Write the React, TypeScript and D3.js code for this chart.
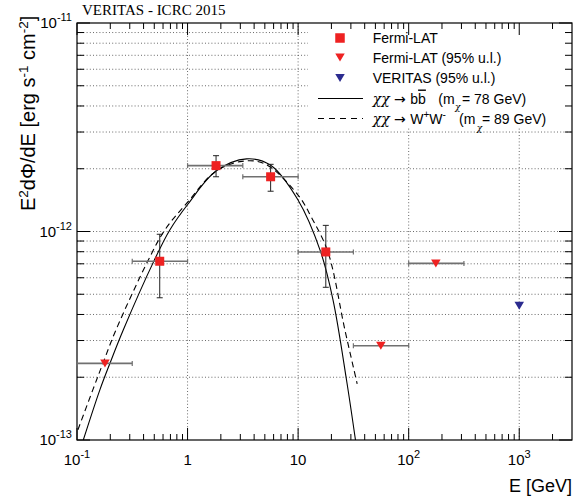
import React from 'react';
import * as d3 from 'd3';

const W = 580;
const H = 498;
const M = { top: 23, right: 8, bottom: 58, left: 77 };
const FONT = "'Liberation Sans', Arial, Helvetica, sans-serif";
const CHI_FONT = "'DejaVu Serif', 'Liberation Serif', serif";

// Fermi-LAT flux points (E in GeV, E^2 dPhi/dE in erg s^-1 cm^-2)
const fermiE = [0.56, 1.81, 5.64, 17.8];
const fermiFlux = [7.2e-13, 2.07e-12, 1.83e-12, 7.98e-13];
const fermiELo = [0.316, 1.0, 3.16, 10];
const fermiEHi = [1.0, 3.16, 10, 31.6];
const fermiFluxLo = [4.81e-13, 1.83e-12, 1.56e-12, 5.4e-13];
const fermiFluxHi = [9.7e-13, 2.31e-12, 2.1e-12, 1.07e-12];

// Fermi-LAT 95% upper limits
const ulE = [0.179, 56, 176];
const ulFlux = [2.33e-13, 2.83e-13, 7.03e-13];
const ulELo = [0.1, 31.6, 100];
const ulEHi = [0.316, 100, 316];

// VERITAS 95% upper limit
const veritasE = [1000];
const veritasFlux = [4.4e-13];

// model curves
const bbE = [0.114, 0.161, 0.199, 0.262, 0.497, 0.693, 1.01, 1.81, 3.42, 5.64, 9.95, 16.0, 20.7, 27.4, 33.1];
const bbFlux = [1.0e-13, 1.74e-13, 2.34e-13, 3.37e-13, 7.23e-13, 1.02e-12, 1.355e-12, 1.95e-12, 2.23e-12, 2.08e-12, 1.42e-12, 7.98e-13, 4.69e-13, 1.94e-13, 0.99e-13];
const wwE = [0.102, 0.139, 0.172, 0.225, 0.438, 0.625, 1.01, 1.77, 3.1, 5.01, 9.95, 13.3, 18.6, 26.5, 34.2];
const wwFlux = [1.12e-13, 1.74e-13, 2.34e-13, 3.37e-13, 7.23e-13, 1.02e-12, 1.39e-12, 1.93e-12, 2.17e-12, 2.11e-12, 1.5e-12, 1.16e-12, 7.98e-13, 3.37e-13, 1.86e-13];

// axis ticks
const xTickValues = [0.1, 1, 10, 100, 1000];
const xTickLabels = [['10', '-1'], ['1', ''], ['10', ''], ['10', '2'], ['10', '3']];
const yTickValues = [1e-13, 1e-12, 1e-11];
const yTickLabels = [['10', '-13'], ['10', '-12'], ['10', '-11']];

const RED = '#ee2222';
const BLUE = '#2b2b8f';

function Square({ cx, cy, s = 9 }: { cx: number; cy: number; s?: number }) {
  return <rect x={cx - s / 2} y={cy - s / 2} width={s} height={s} fill={RED} />;
}

function TriDown({ cx, cy, color }: { cx: number; cy: number; color: string }) {
  const w = 9.5, h = 8;
  return <path d={`M${cx - w / 2},${cy - h / 2}L${cx + w / 2},${cy - h / 2}L${cx},${cy + h / 2}Z`} fill={color} />;
}

function Chi({ size }: { size?: number }) {
  return <tspan fontFamily={CHI_FONT} fontStyle="italic" fontSize={size}>χ</tspan>;
}

function Arrow() {
  return <tspan fontFamily="'DejaVu Sans', sans-serif"> → </tspan>;
}

export default function App() {
  const x = d3.scaleLog().domain([0.1, 3000]).range([M.left, W - M.right]);
  const y = d3.scaleLog().domain([1e-13, 1e-11]).range([H - M.bottom, M.top]);
  const L = M.left, R = W - M.right, T = M.top, B = H - M.bottom;

  const xMinor: number[] = [];
  xTickValues.forEach(d => { for (let k = 2; k <= 9; k++) if (d * k < 3000) xMinor.push(d * k); });
  const yMinor: number[] = [];
  [1e-13, 1e-12].forEach(d => { for (let k = 2; k <= 9; k++) yMinor.push(d * k); });

  const line = d3.line<[number, number]>()
    .x(d => x(d[0]))
    .y(d => y(d[1]))
    .curve(d3.curveCatmullRom.alpha(0.5));
  const bbPath = line(bbE.map((e, i) => [e, bbFlux[i]] as [number, number])) || '';
  const wwPath = line(wwE.map((e, i) => [e, wwFlux[i]] as [number, number])) || '';

  const grid = { stroke: '#444', strokeWidth: 0.8, strokeDasharray: '1,2.2' };

  return (
    <div style={{ position: 'fixed', left: 0, top: 0 }}>
      <svg width={W} height={H} style={{ display: 'block', background: '#fff' }} fontFamily={FONT}>
        <defs>
          <clipPath id="plot">
            <rect x={L} y={T} width={R - L} height={B - T} />
          </clipPath>
        </defs>

        {/* grid */}
        {xTickValues.slice(1).map(v => (
          <line key={'gx' + v} x1={x(v)} x2={x(v)} y1={T} y2={B} {...grid} />
        ))}
        {[...yMinor, 1e-12].map(v => (
          <line key={'gy' + v} x1={L} x2={R} y1={y(v)} y2={y(v)} {...grid} />
        ))}

        {/* legend background hides the grid */}
        <rect x={308} y={T} width={R - 308} height={128 - T} fill="#fff" />

        {/* ticks */}
        <g stroke="#000" strokeWidth={1}>
          {xTickValues.map(v => (
            <g key={'xt' + v}>
              <line x1={x(v)} x2={x(v)} y1={B} y2={B - 12} />
              <line x1={x(v)} x2={x(v)} y1={T} y2={T + 12} />
            </g>
          ))}
          {xMinor.map(v => (
            <g key={'xm' + v}>
              <line x1={x(v)} x2={x(v)} y1={B} y2={B - 6} />
              <line x1={x(v)} x2={x(v)} y1={T} y2={T + 6} />
            </g>
          ))}
          {yTickValues.map(v => (
            <g key={'yt' + v}>
              <line x1={L} x2={L + 13} y1={y(v)} y2={y(v)} />
              <line x1={R} x2={R - 13} y1={y(v)} y2={y(v)} />
            </g>
          ))}
          {yMinor.map(v => (
            <g key={'ym' + v}>
              <line x1={L} x2={L + 7} y1={y(v)} y2={y(v)} />
              <line x1={R} x2={R - 7} y1={y(v)} y2={y(v)} />
            </g>
          ))}
        </g>

        {/* frame */}
        <rect x={L} y={T} width={R - L} height={B - T} fill="none" stroke="#000" strokeWidth={1.2} />

        {/* model curves */}
        <g clipPath="url(#plot)" fill="none" stroke="#000" strokeWidth={1.1}>
          <path d={bbPath} />
          <path d={wwPath} strokeDasharray="6,4" />
        </g>

        {/* Fermi-LAT points */}
        {fermiE.map((e, i) => (
          <g key={'f' + i}>
            <line x1={x(fermiELo[i])} x2={x(fermiEHi[i])} y1={y(fermiFlux[i])} y2={y(fermiFlux[i])} stroke="#707070" strokeWidth={1.6} />
            <line x1={x(fermiELo[i])} x2={x(fermiELo[i])} y1={y(fermiFlux[i]) - 2.5} y2={y(fermiFlux[i]) + 2.5} stroke="#707070" strokeWidth={1.2} />
            <line x1={x(fermiEHi[i])} x2={x(fermiEHi[i])} y1={y(fermiFlux[i]) - 2.5} y2={y(fermiFlux[i]) + 2.5} stroke="#707070" strokeWidth={1.2} />
            <line x1={x(e)} x2={x(e)} y1={y(fermiFluxLo[i])} y2={y(fermiFluxHi[i])} stroke="#222" strokeWidth={1} />
            <line x1={x(e) - 3} x2={x(e) + 3} y1={y(fermiFluxLo[i])} y2={y(fermiFluxLo[i])} stroke="#222" strokeWidth={1} />
            <line x1={x(e) - 3} x2={x(e) + 3} y1={y(fermiFluxHi[i])} y2={y(fermiFluxHi[i])} stroke="#222" strokeWidth={1} />
            <Square cx={x(e)} cy={y(fermiFlux[i])} />
          </g>
        ))}

        {/* Fermi-LAT upper limits */}
        {ulE.map((e, i) => (
          <g key={'u' + i}>
            <line x1={x(ulELo[i])} x2={x(ulEHi[i])} y1={y(ulFlux[i])} y2={y(ulFlux[i])} stroke="#707070" strokeWidth={1.6} />
            <line x1={x(ulELo[i])} x2={x(ulELo[i])} y1={y(ulFlux[i]) - 2.5} y2={y(ulFlux[i]) + 2.5} stroke="#707070" strokeWidth={1.2} />
            <line x1={x(ulEHi[i])} x2={x(ulEHi[i])} y1={y(ulFlux[i]) - 2.5} y2={y(ulFlux[i]) + 2.5} stroke="#707070" strokeWidth={1.2} />
            <TriDown cx={x(e)} cy={y(ulFlux[i])} color={RED} />
          </g>
        ))}

        {/* VERITAS upper limit */}
        {veritasE.map((e, i) => (
          <TriDown key={'v' + i} cx={x(e)} cy={y(veritasFlux[i])} color={BLUE} />
        ))}

        {/* axis labels */}
        {xTickValues.map((v, i) => (
          <text key={'xl' + v} x={x(v)} y={465} textAnchor="middle" fontSize={15}>
            {xTickLabels[i][0]}
            {xTickLabels[i][1] && <tspan dy={-7} fontSize={11}>{xTickLabels[i][1]}</tspan>}
          </text>
        ))}
        {yTickValues.map((v, i) => (
          <text key={'yl' + v} x={72} y={y(v) + 5} textAnchor="end" fontSize={15}>
            {yTickLabels[i][0]}
            <tspan dy={-7} fontSize={11}>{yTickLabels[i][1]}</tspan>
          </text>
        ))}

        <text x={R} y={492} textAnchor="end" fontSize={18}>E [GeV]</text>
        <text transform={`translate(35,${211}) rotate(-90)`} fontSize={20}>
          E<tspan dy={-7.5} fontSize={13.5}>2</tspan>
          <tspan dy={7.5}>dΦ/dE [erg s</tspan>
          <tspan dy={-7.5} fontSize={13.5}>-1</tspan>
          <tspan dy={7.5}> cm</tspan>
          <tspan dy={-7.5} fontSize={13.5}>-2</tspan>
          <tspan dy={7.5}>]</tspan>
        </text>

        <text x={82} y={15} fontSize={15} fontFamily="'Liberation Serif', 'Times New Roman', serif">VERITAS - ICRC 2015</text>

        {/* legend */}
        <g fontSize={14}>
          <Square cx={340} cy={38} s={9.5} />
          <text x={372.7} y={43}>Fermi-LAT</text>
          <TriDown cx={340} cy={57.5} color={RED} />
          <text x={372.7} y={62.5}>Fermi-LAT (95% u.l.)</text>
          <TriDown cx={340} cy={78} color={BLUE} />
          <text x={372.7} y={83}>VERITAS (95% u.l.)</text>
          <line x1={318} x2={363} y1={98.5} y2={98.5} stroke="#000" strokeWidth={1.1} />
          <text x={372.7} y={103.5}><Chi /><Chi /><Arrow />b<tspan style={{ textDecoration: 'overline' }}>b</tspan></text>
          <text x={438.3} y={103.5}>(m</text>
          <text x={455} y={110} fontSize={9}><Chi size={9} /></text>
          <text x={462} y={103.5}>= 78 GeV)</text>
          <line x1={318} x2={363} y1={118.5} y2={118.5} stroke="#000" strokeWidth={1.1} strokeDasharray="6,5" />
          <text x={372.7} y={123.5}><Chi /><Chi /><Arrow />W<tspan dy={-6} fontSize={10}>+</tspan><tspan dy={6}>W</tspan><tspan dy={-6} fontSize={10}>-</tspan></text>
          <text x={459} y={123.5}>(m</text>
          <text x={476.7} y={131} fontSize={9}><Chi size={9} /></text>
          <text x={482} y={123.5}>= 89 GeV)</text>
        </g>
      </svg>
    </div>
  );
}
